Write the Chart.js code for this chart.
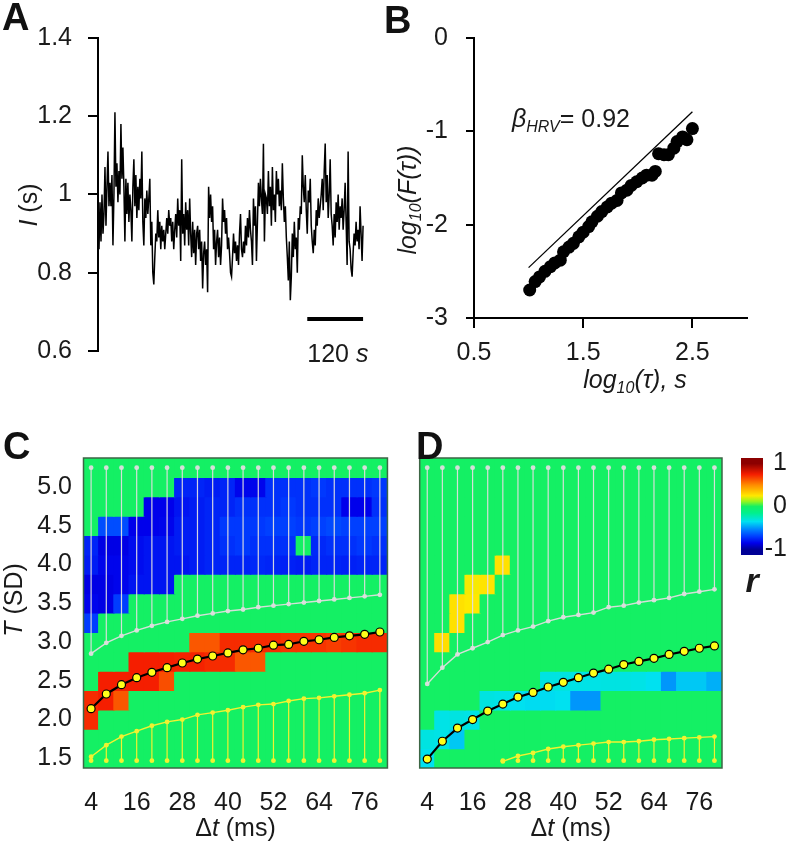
<!DOCTYPE html>
<html>
<head>
<meta charset="utf-8">
<script src="https://cdn.jsdelivr.net/npm/chart.js@4.4.1/dist/chart.umd.min.js"></script>
<style>
  body { margin: 0; background: #fff; }
  #fig { position: relative; width: 791px; height: 853px; overflow: hidden; font-family: "Liberation Sans", Arial, sans-serif; }
  #fig canvas { position: absolute; }
  .panel { position: absolute; font-weight: bold; font-size: 38px; line-height: 38px; color: #111; }
</style>
</head>
<body>
<div id="fig">
  <canvas id="chartA" width="380" height="400" style="left:0;top:0"></canvas>
  <canvas id="chartB" width="411" height="400" style="left:380px;top:0"></canvas>
  <canvas id="chartC" width="400" height="423" style="left:0;top:430px"></canvas>
  <canvas id="chartD" width="335" height="423" style="left:400px;top:430px"></canvas>
  <canvas id="colorbar" width="56" height="160" style="left:735px;top:440px"></canvas>
  <div class="panel" style="left:2px;top:-2px">A</div>
  <div class="panel" style="left:384px;top:1px">B</div>
  <div class="panel" style="left:3px;top:427px">C</div>
  <div class="panel" style="left:416px;top:427px">D</div>
</div>
<script>
// ---- data ----
// A: inter-beat interval I (s), one sample per 120/56 s
const rrInterval = [
  0.93,0.86,0.98,0.88,1.00,0.90,0.95,1.07,0.92,1.02,
  1.11,0.97,1.03,0.97,1.05,0.87,1.00,1.21,1.02,1.08,
  0.98,1.06,1.00,1.18,1.04,1.12,1.02,0.88,1.04,0.95,
  1.03,0.93,1.00,0.96,0.88,1.02,1.09,0.97,1.05,0.94,
  1.02,0.96,1.04,0.99,1.11,0.93,0.87,0.99,0.94,1.01,
  0.95,0.99,1.04,0.87,0.93,0.80,0.77,0.84,0.90,0.88,
  0.96,0.89,0.93,0.86,0.92,0.88,0.91,0.86,0.90,0.94,
  0.90,0.96,0.92,0.94,0.88,0.93,0.86,0.91,0.95,0.89,
  0.99,0.92,0.96,0.83,1.09,0.90,0.95,0.87,0.98,0.91,
  0.96,0.87,0.99,0.90,0.84,0.93,0.85,0.91,0.82,0.90,
  0.92,0.86,0.91,0.83,0.88,0.76,0.85,0.88,0.82,0.86,
  0.75,1.02,0.94,1.00,0.93,0.97,0.86,0.91,0.82,0.88,
  0.91,0.84,0.89,0.82,0.87,0.99,0.93,0.96,0.90,0.94,
  0.86,0.89,0.85,0.80,0.79,0.84,0.90,0.85,0.88,0.83,
  0.87,0.82,0.90,0.95,0.86,0.84,0.88,0.85,0.92,0.87,
  0.94,0.89,0.96,0.91,0.88,0.82,0.99,0.92,0.97,0.83,
  0.93,1.03,0.97,1.04,0.99,0.95,1.13,0.88,1.00,0.99,
  0.95,1.06,0.97,1.02,0.92,1.07,0.96,1.00,0.93,1.06,
  1.00,1.04,0.97,1.01,0.96,1.08,0.99,0.93,0.97,0.89,
  0.84,0.78,0.88,0.73,0.79,0.90,0.84,0.93,0.86,0.89,
  0.80,0.94,0.91,0.97,0.95,1.10,1.02,0.98,1.05,0.96,
  0.90,1.01,0.98,1.04,0.92,0.88,0.85,0.91,0.87,0.96,
  0.92,0.99,0.94,0.97,1.00,1.04,0.96,1.06,1.13,0.98,
  1.05,0.94,1.00,1.09,0.95,0.92,0.87,0.95,0.89,0.98,
  0.93,1.00,0.91,0.97,0.94,0.99,0.91,0.96,1.03,0.93,
  0.82,1.11,0.88,0.86,0.81,0.79,0.85,0.90,0.87,0.93,
  0.88,0.91,0.86,0.97,0.90,0.83,0.92
];
const rrStep = 120 / 56;
const scaleBarSec = [450, 570];
const scaleBarLevel = 0.682;
const yTicksA = [0.6, 0.8, 1, 1.2, 1.4];

// B: DFA fluctuation function
const logTau = [1.01,1.06,1.10,1.15,1.20,1.24,1.29,1.32,1.37,1.41,1.46,1.50,1.55,1.58,1.63,1.67,1.72,1.76,
  1.81,1.85,1.90,1.94,1.99,2.04,2.08,2.13,2.16,2.19,2.24,2.28,2.33,2.36,2.41,2.45,2.50];
const logF = [-2.70,-2.61,-2.56,-2.50,-2.45,-2.41,-2.38,-2.29,-2.24,-2.20,-2.13,-2.08,-2.02,-1.97,-1.91,-1.86,-1.81,-1.77,
  -1.74,-1.66,-1.63,-1.58,-1.54,-1.50,-1.47,-1.47,-1.43,-1.24,-1.25,-1.25,-1.18,-1.11,-1.06,-1.09,-0.97];
const fitLogTau = [1.0, 2.5];
const fitLogF = [-2.46, -0.79];
const betaHRV = 0.92;
const xTicksB = [0.5, 1.5, 2.5];
const yTicksB = [0, -1, -2, -3];

// C, D: correlation maps over bin width and threshold
const dtMs = [4,8,12,16,20,24,28,32,36,40,44,48,52,56,60,64,68,72,76,80];
const dtTickLabels = [4,16,28,40,52,64,76];
const tLevels = [5.25,5.0,4.75,4.5,4.25,4.0,3.75,3.5,3.25,3.0,2.75,2.5,2.25,2.0,1.75,1.5];
const tTicks = [1.5,2.0,2.5,3.0,3.5,4.0,4.5,5.0];
const topLevel = 5.25;
const bottomLevel = 1.47;

const rC = [
  [0,0,0,0,0,0,0,0,0,0,0,0,0,0,0,0,0,0,0,0],
  [0,0,0,0,0,0,-0.76,-0.76,-0.78,-0.76,-0.84,-0.84,-0.73,-0.73,-0.73,-0.71,-0.73,-0.73,-0.73,-0.71],
  [0,0,0,0,-0.85,-0.85,-0.8,-0.78,-0.76,-0.76,-0.73,-0.73,-0.73,-0.71,-0.73,-0.73,-0.73,-0.85,-0.85,-0.73],
  [0,-0.66,-0.66,-0.85,-0.85,-0.84,-0.78,-0.78,-0.76,-0.71,-0.71,-0.71,-0.69,-0.69,-0.71,-0.69,-0.67,-0.69,-0.69,-0.69],
  [-0.76,-0.86,-0.86,-0.82,-0.8,-0.8,-0.78,-0.78,-0.76,-0.73,-0.71,-0.73,-0.73,-0.73,0,-0.75,-0.73,-0.73,-0.71,-0.73],
  [-0.78,-0.84,-0.84,-0.82,-0.8,-0.8,-0.8,-0.78,-0.76,-0.76,-0.76,-0.75,-0.76,-0.77,-0.78,-0.76,-0.76,-0.77,-0.76,-0.76],
  [-0.86,-0.86,-0.84,-0.8,-0.8,-0.8,0,0,0,0,0,0,0,0,0,0,0,0,0,0],
  [-0.84,-0.86,-0.7,0,0,0,0,0,0,0,0,0,0,0,0,0,0,0,0,0],
  [-0.7,0,0,0,0,0,0,0,0,0,0,0,0,0,0,0,0,0,0,0],
  [0,0,0,0,0,0,0,0.62,0.62,0.72,0.72,0.72,0.72,0.7,0.7,0.7,0.68,0.7,0.72,0.72],
  [0,0,0,0.75,0.75,0.75,0.74,0.74,0.72,0.72,0.62,0.62,0,0,0,0,0,0,0,0],
  [0,0.75,0.75,0.75,0.75,0.64,0,0,0,0,0,0,0,0,0,0,0,0,0,0],
  [0.72,0.75,0.62,0,0,0,0,0,0,0,0,0,0,0,0,0,0,0,0,0],
  [0.72,0,0,0,0,0,0,0,0,0,0,0,0,0,0,0,0,0,0,0],
  [0,0,0,0,0,0,0,0,0,0,0,0,0,0,0,0,0,0,0,0],
  [0,0,0,0,0,0,0,0,0,0,0,0,0,0,0,0,0,0,0,0]
];
const upperC = [2.85,2.99,3.08,3.15,3.21,3.26,3.30,3.34,3.37,3.40,3.42,3.45,3.47,3.49,3.51,3.53,3.55,3.57,3.59,3.61];
const meanC = [2.14,2.33,2.45,2.54,2.61,2.67,2.73,2.78,2.82,2.86,2.90,2.92,2.96,2.97,3.01,3.03,3.06,3.08,3.10,3.13];
const lowerC = [1.52,1.67,1.78,1.85,1.92,1.97,2.00,2.06,2.09,2.12,2.16,2.19,2.20,2.24,2.27,2.28,2.30,2.32,2.34,2.38];

const rD = [
  [0,0,0,0,0,0,0,0,0,0,0,0,0,0,0,0,0,0,0,0],
  [0,0,0,0,0,0,0,0,0,0,0,0,0,0,0,0,0,0,0,0],
  [0,0,0,0,0,0,0,0,0,0,0,0,0,0,0,0,0,0,0,0],
  [0,0,0,0,0,0,0,0,0,0,0,0,0,0,0,0,0,0,0,0],
  [0,0,0,0,0,0,0,0,0,0,0,0,0,0,0,0,0,0,0,0],
  [0,0,0,0,0,0.27,0,0,0,0,0,0,0,0,0,0,0,0,0,0],
  [0,0,0,0.24,0.26,0,0,0,0,0,0,0,0,0,0,0,0,0,0,0],
  [0,0,0.27,0.25,0,0,0,0,0,0,0,0,0,0,0,0,0,0,0,0],
  [0,0,0.27,0,0,0,0,0,0,0,0,0,0,0,0,0,0,0,0,0],
  [0,0.28,0,0,0,0,0,0,0,0,0,0,0,0,0,0,0,0,0,0],
  [0,0,0,0,0,0,0,0,0,0,0,0,0,0,0,0,0,0,0,0],
  [0,0,0,0,0,0,0,0,-0.32,-0.32,-0.33,-0.33,-0.32,-0.32,-0.33,-0.35,-0.5,-0.4,-0.4,-0.45],
  [0,0,0,0,-0.32,-0.33,-0.35,-0.36,-0.36,-0.35,-0.5,-0.5,0,0,0,0,0,0,0,0],
  [0,-0.33,-0.32,-0.33,0,0,0,0,0,0,0,0,0,0,0,0,0,0,0,0],
  [-0.32,-0.33,-0.4,0,0,0,0,0,0,0,0,0,0,0,0,0,0,0,0,0],
  [-0.35,0,0,0,0,0,0,0,0,0,0,0,0,0,0,0,0,0,0,0]
];
const upperD = [2.46,2.67,2.84,2.92,3.00,3.09,3.15,3.20,3.27,3.32,3.35,3.38,3.45,3.47,3.51,3.54,3.57,3.62,3.65,3.68];
const meanD = [1.49,1.72,1.89,2.00,2.11,2.20,2.29,2.35,2.42,2.48,2.54,2.60,2.65,2.71,2.75,2.79,2.84,2.88,2.92,2.95];
const lowerD = [null,null,null,null,null,1.46,1.53,1.57,1.62,1.65,1.67,1.69,1.71,1.71,1.72,1.74,1.75,1.76,1.77,1.78];

const cbTicks = [1, 0, -1];
const cbExtent = 1.13;

// ---- styles ----
const FAMILY = '"Liberation Sans", Arial, sans-serif';
const ink = '#1a1a1a';
const f = (size, style) => (style ? style + ' ' : '') + size + 'px ' + FAMILY;
const tickFont = { family: FAMILY, size: 25 };
const greyLine = 'rgba(222,222,222,0.95)';
const yellowLine = '#f2f230';
const frameColor = '#3d6645';
const cellHalf = 0.125;

Chart.defaults.font.family = FAMILY;
Chart.defaults.color = ink;

const cmapStops = [
  [-1.0, [0, 0, 150]], [-0.85, [0, 0, 235]], [-0.7, [0, 60, 255]], [-0.55, [0, 125, 255]], [-0.35, [0, 225, 240]],
  [-0.15, [0, 240, 140]], [0, [20, 240, 100]], [0.12, [150, 245, 30]], [0.25, [255, 232, 0]],
  [0.5, [255, 140, 0]], [0.75, [245, 30, 0]], [1.0, [140, 0, 0]]
];
function rColor(r) {
  const v = Math.max(-1, Math.min(1, r));
  for (let i = 1; i < cmapStops.length; i++) {
    const [v1, c1] = cmapStops[i];
    if (v <= v1) {
      const [v0, c0] = cmapStops[i - 1];
      const t = (v - v0) / (v1 - v0);
      const c = c0.map((a, k) => Math.round(a + (c1[k] - a) * t));
      return `rgb(${c[0]},${c[1]},${c[2]})`;
    }
  }
  return 'rgb(140,0,0)';
}

function drawRich(ctx, parts, x, y, rotate = 0, align = 'center') {
  ctx.save();
  ctx.translate(x, y);
  if (rotate) ctx.rotate(rotate);
  ctx.fillStyle = ink;
  ctx.textBaseline = 'alphabetic';
  ctx.textAlign = 'left';
  let width = 0;
  parts.forEach(([t, font]) => { ctx.font = font; width += ctx.measureText(t).width; });
  let cx = align === 'center' ? -width / 2 : 0;
  parts.forEach(([t, font, dy]) => {
    ctx.font = font;
    ctx.fillText(t, cx, dy || 0);
    cx += ctx.measureText(t).width;
  });
  ctx.restore();
}

const decor = draw => ({ id: 'decor', afterDraw: chart => draw(chart, chart.ctx) });
const fixedTicks = values => axis => { axis.ticks = values.map(v => ({ value: v })); };
const baseOptions = padding => ({
  responsive: false, animation: false, events: [], devicePixelRatio: 1,
  layout: { padding },
  plugins: { legend: { display: false }, tooltip: { enabled: false } }
});

// ---- A: interval trace ----
new Chart(document.getElementById('chartA'), {
  type: 'line',
  data: {
    datasets: [
      { data: rrInterval.map((v, i) => ({ x: i * rrStep, y: v })), borderColor: '#000', borderWidth: 1.5, pointRadius: 0 },
      { data: scaleBarSec.map(s => ({ x: s, y: scaleBarLevel })), borderColor: '#000', borderWidth: 4, pointRadius: 0 }
    ]
  },
  options: {
    ...baseOptions({ left: 0, top: 38, right: 16, bottom: 49 }),
    scales: {
      x: { type: 'linear', display: false, min: 0, max: 572 },
      y: {
        min: 0.6, max: 1.4,
        afterFit: s => { s.width = 98; },
        afterBuildTicks: fixedTicks(yTicksA),
        ticks: { font: tickFont, color: ink, padding: 16, callback: v => String(v) },
        grid: { drawOnChartArea: false, tickLength: 10, color: '#000', lineWidth: 2 },
        border: { color: '#000', width: 2 }
      }
    }
  },
  plugins: [decor((chart, ctx) => {
    const xs = chart.scales.x, ys = chart.scales.y;
    drawRich(ctx, [['I', f(25, 'italic')], [' (s)', f(25)]], 37, 205, -Math.PI / 2);
    drawRich(ctx, [['120 ', f(25)], ['s', f(25, 'italic')]],
      xs.getPixelForValue(scaleBarSec[0]), ys.getPixelForValue(scaleBarLevel) + 43, 0, 'left');
  })]
});

// ---- B: DFA ----
new Chart(document.getElementById('chartB'), {
  type: 'scatter',
  data: {
    datasets: [
      { data: logTau.map((x, i) => ({ x, y: logF[i] })), pointRadius: 6.5, pointBackgroundColor: '#000', pointBorderWidth: 0, order: 1 },
      { type: 'line', data: fitLogTau.map((x, i) => ({ x, y: fitLogF[i] })), borderColor: '#000', borderWidth: 1.3, pointRadius: 0, order: 2 }
    ]
  },
  options: {
    ...baseOptions({ left: 0, top: 38, right: 44, bottom: 0 }),
    scales: {
      x: {
        type: 'linear', min: 0.5, max: 3,
        afterFit: s => { s.height = 82; },
        afterBuildTicks: fixedTicks(xTicksB),
        ticks: { font: tickFont, color: ink, padding: 10, callback: v => v.toFixed(1) },
        grid: { drawOnChartArea: false, tickLength: 10, color: '#000', lineWidth: 2 },
        border: { color: '#000', width: 2 }
      },
      y: {
        min: -3, max: 0,
        afterFit: s => { s.width = 94; },
        afterBuildTicks: fixedTicks(yTicksB),
        ticks: { font: tickFont, color: ink, padding: 18, callback: v => String(v) },
        grid: { drawOnChartArea: false, tickLength: 8, color: '#000', lineWidth: 2 },
        border: { color: '#000', width: 2 }
      }
    }
  },
  plugins: [decor((chart, ctx) => {
    const it25 = f(25, 'italic'), it16 = f(16, 'italic');
    drawRich(ctx, [['β', it25], ['HRV', it16, 5], ['= ' + betaHRV.toFixed(2), f(25)]], 132, 127, 0, 'left');
    drawRich(ctx, [['log', it25], ['10', it16, 5], ['(F(τ))', it25]], 36, 200, -Math.PI / 2);
    drawRich(ctx, [['log', it25], ['10', it16, 5], ['(τ), ', it25], ['s', it25]], 255, 388);
  })]
});

// ---- C, D: heatmaps ----
function heatmapChart(id, rMatrix, upper, mean, lower, showY, padding, extra) {
  const datasets = [];
  datasets.push({
    type: 'line', xAxisID: 'xl', data: dtMs.map((d, i) => ({ x: d, y: mean[i] })),
    borderColor: '#000', borderWidth: 2.2, pointRadius: 4, pointBackgroundColor: '#ffff1a',
    pointBorderColor: '#000', pointBorderWidth: 1.2, order: 1
  });
  datasets.push({
    type: 'line', xAxisID: 'xl', data: dtMs.map((d, i) => ({ x: d, y: upper[i] })),
    borderColor: greyLine, borderWidth: 1.4, pointRadius: 2.4, pointBackgroundColor: greyLine, pointBorderWidth: 0, order: 3
  });
  datasets.push({
    type: 'line', xAxisID: 'xl', data: dtMs.map((d, i) => ({ x: d, y: lower[i] })).filter(p => p.y !== null),
    borderColor: yellowLine, borderWidth: 1.4, pointRadius: 2.4, pointBackgroundColor: yellowLine, pointBorderWidth: 0, order: 3
  });
  dtMs.forEach((d, i) => {
    datasets.push({
      type: 'line', xAxisID: 'xl', data: [{ x: d, y: upper[i] }, { x: d, y: topLevel }],
      borderColor: greyLine, borderWidth: 1.2, pointRadius: [0, 2.4], pointBackgroundColor: greyLine, pointBorderWidth: 0, order: 5
    });
    if (lower[i] !== null) {
      datasets.push({
        type: 'line', xAxisID: 'xl', data: [{ x: d, y: lower[i] }, { x: d, y: bottomLevel }],
        borderColor: yellowLine, borderWidth: 1.2, pointRadius: [0, 2.4], pointBackgroundColor: yellowLine, pointBorderWidth: 0, order: 5
      });
    }
  });
  rMatrix.forEach((row, k) => {
    datasets.push({
      type: 'bar', data: row.map(() => [tLevels[k] - cellHalf, tLevels[k] + cellHalf]),
      backgroundColor: row.map(rColor), borderWidth: 0, inflateAmount: 0.6,
      barPercentage: 1, categoryPercentage: 1, grouped: false, order: 10
    });
  });
  return new Chart(document.getElementById(id), {
    type: 'bar',
    data: { labels: dtMs.map(String), datasets },
    options: {
      ...baseOptions(padding),
      scales: {
        x: {
          type: 'category', offset: true,
          afterFit: s => { s.height = 85; },
          grid: { display: false, drawTicks: false }, border: { display: false },
          ticks: {
            font: tickFont, color: ink, padding: 20, autoSkip: false, maxRotation: 0,
            callback: (v, i) => dtTickLabels.includes(dtMs[i]) ? String(dtMs[i]) : ''
          }
        },
        xl: { type: 'linear', display: false, offset: false, min: 2, max: 82 },
        y: {
          display: showY, min: 1.375, max: 5.375, beginAtZero: false,
          afterFit: s => { s.width = showY ? 83.5 : 0; },
          afterBuildTicks: fixedTicks(tTicks),
          grid: { display: false, drawTicks: false }, border: { display: false },
          ticks: { font: tickFont, color: ink, padding: 11.5, callback: v => v.toFixed(1) }
        }
      }
    },
    plugins: [decor((chart, ctx) => {
      const a = chart.chartArea;
      ctx.save();
      ctx.strokeStyle = frameColor;
      ctx.lineWidth = 1.5;
      ctx.strokeRect(a.left, a.top, a.right - a.left, a.bottom - a.top);
      ctx.restore();
      drawRich(ctx, [['Δ', f(25)], ['t', f(25, 'italic')], [' (ms)', f(25)]], (a.left + a.right) / 2, 406);
      if (extra) extra(chart, ctx);
    })]
  });
}

heatmapChart('chartC', rC, upperC, meanC, lowerC, true, { left: 0, top: 28, right: 6, bottom: 0 },
  (chart, ctx) => drawRich(ctx, [['T', f(25, 'italic')], [' (SD)', f(25)]], 22, 170, -Math.PI / 2));
heatmapChart('chartD', rD, upperD, meanD, lowerD, false, { left: 12, top: 28, right: 13, bottom: 0 });

// ---- colour bar ----
new Chart(document.getElementById('colorbar'), {
  type: 'bar',
  data: {
    labels: ['r'],
    datasets: [{
      data: [[-cbExtent, cbExtent]], borderWidth: 0, barPercentage: 1, categoryPercentage: 1,
      backgroundColor: c => {
        const ch = c.chart;
        if (!ch.chartArea) return rColor(0);
        const ys = ch.scales.y;
        const g = ch.ctx.createLinearGradient(0, ys.getPixelForValue(cbExtent), 0, ys.getPixelForValue(-cbExtent));
        g.addColorStop(0, rColor(1));
        cmapStops.slice().reverse().forEach(([v, rgb]) => {
          g.addColorStop((cbExtent - v) / (2 * cbExtent), `rgb(${rgb[0]},${rgb[1]},${rgb[2]})`);
        });
        g.addColorStop(1, rColor(-1));
        return g;
      }
    }]
  },
  options: {
    ...baseOptions({ left: 6, top: 18, right: 4, bottom: 45 }),
    scales: {
      x: { display: false },
      y: {
        position: 'right', min: -cbExtent, max: cbExtent, beginAtZero: false,
        afterFit: s => { s.width = 24; },
        afterBuildTicks: fixedTicks(cbTicks),
        grid: { display: false, drawTicks: false }, border: { display: false },
        ticks: { font: tickFont, color: ink, padding: 0, crossAlign: 'far', callback: v => String(v) }
      }
    }
  },
  plugins: [decor((chart, ctx) => {
    const a = chart.chartArea;
    drawRich(ctx, [['r', f(34, 'italic bold')]], (a.left + a.right) / 2, a.bottom + 37);
  })]
});
</script>
</body>
</html>
